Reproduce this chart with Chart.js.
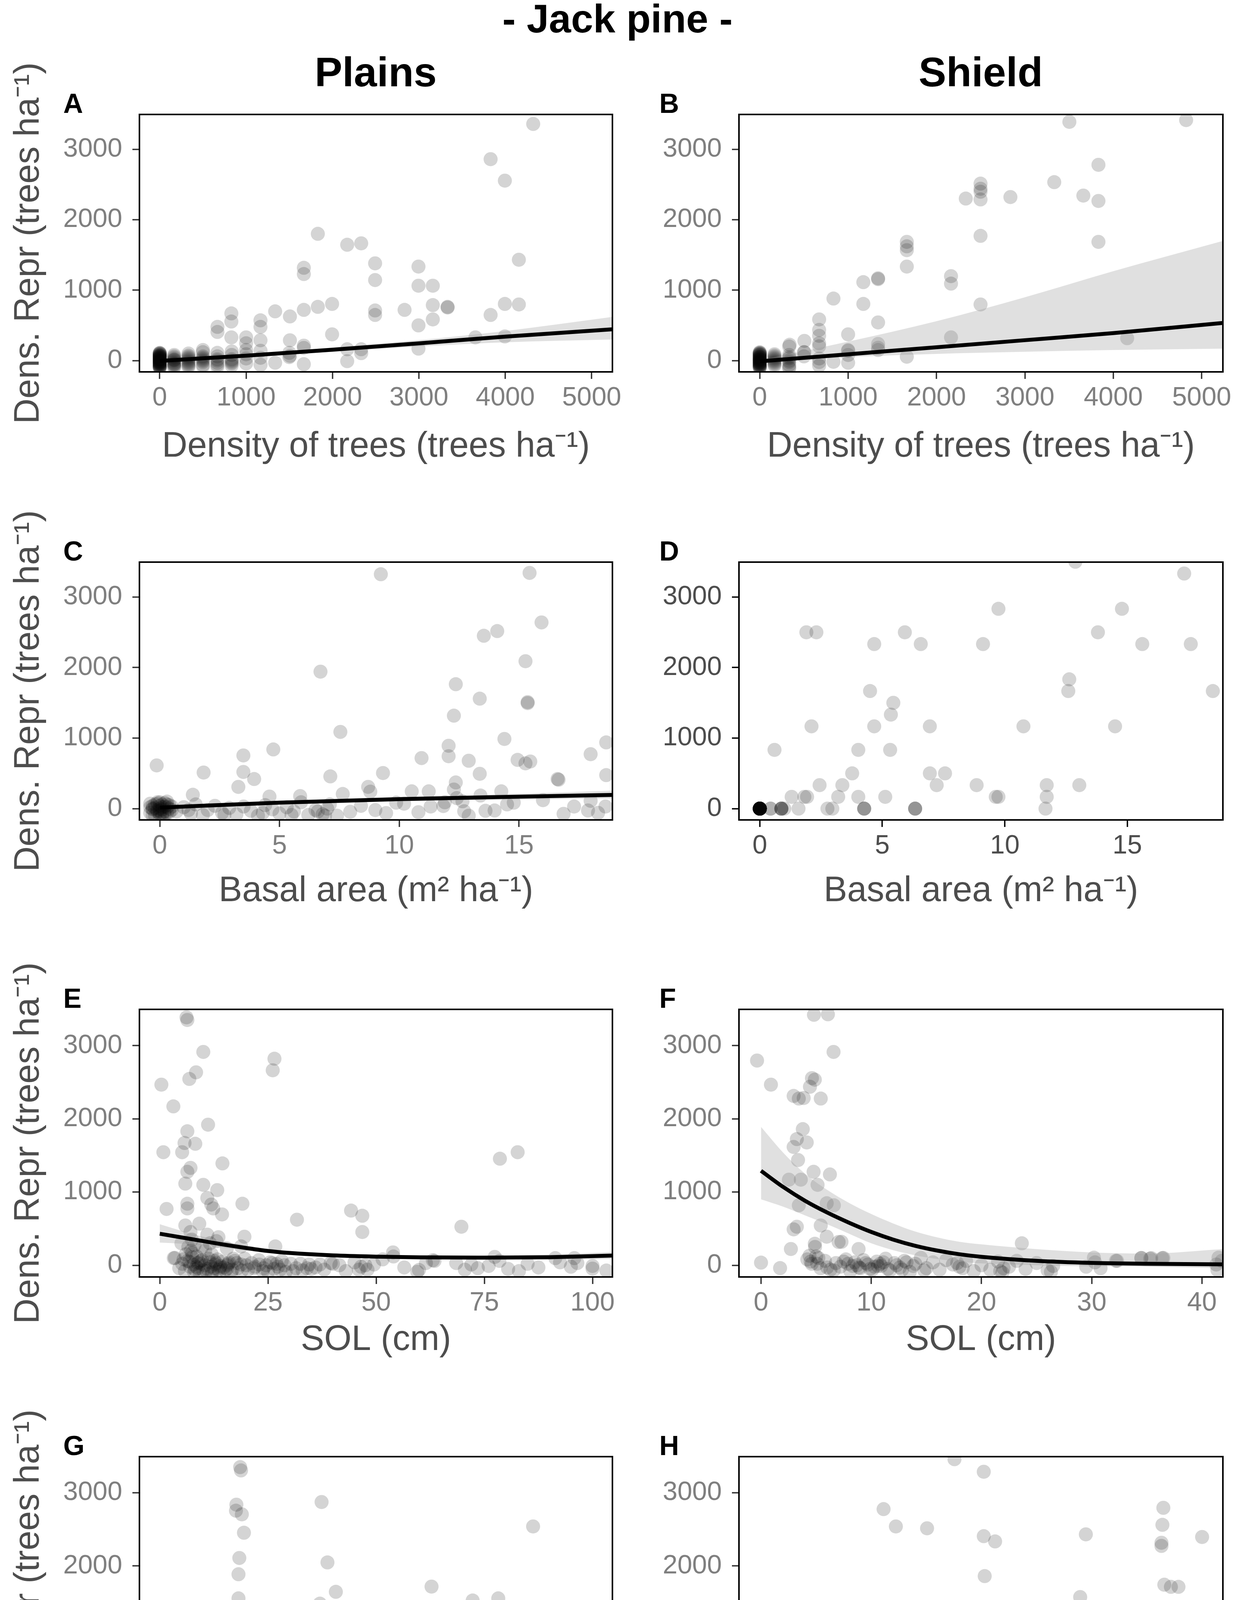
<!DOCTYPE html>
<html>
<head>
<meta charset="utf-8">
<script src="https://cdn.jsdelivr.net/npm/chart.js@4.4.0/dist/chart.umd.min.js"></script>
<style>
  html, body { margin: 0; padding: 0; background: #fff; }
  #page { position: relative; width: 3162px; height: 4634px; overflow: hidden; background: #fff;
          font-family: "Liberation Sans", Arial, sans-serif; }
  canvas { position: absolute; }
  .txt { position: absolute; font-weight: bold; color: #000; line-height: 1; white-space: nowrap; z-index: 5; }
</style>
</head>
<body>
<div id="page"></div>
<script>
// ---- data ----
const yTicks = [0, 1000, 2000, 3000];
const densTicks = [0, 1000, 2000, 3000, 4000, 5000];
const basalTicks = [0, 5, 10, 15];
const solPlainsTicks = [0, 25, 50, 75, 100];
const solShieldTicks = [0, 10, 20, 30, 40];
const dd5PlainsTicks = [75, 100, 125, 150];
const dd5ShieldTicks = [30, 40, 50, 60, 70];

// A - density, plains  [x, y]
const ptsA = [[4323,3360],[3830,2860],[3995,2555],[1830,1800],[2170,1645],[2332,1665],[1668,1318],[1668,1229],
  [2493,1381],[2493,1144],[2995,1335],[2995,1063],[3161,1063],[4157,1432],[1830,763],[1995,805],[1668,720],
  [1336,699],[1507,627],[2493,712],[2493,648],[2834,720],[3161,788],[3332,763],[3332,754],[3995,805],[4157,797],
  [3830,648],[2995,500],[3161,585],[1995,373],[3654,330],[3995,343],[829,670],[829,555],[668,479],[668,407],
  [1166,572],[1166,479],[1000,330],[829,330],[1166,288],[1507,288],[1668,212],[2170,161],[2332,161],[2995,170],
  [2170,-8],[2332,106],[1668,-51],[1336,-30],[1507,68],[1000,246],[1668,180],[1000,150],
  [0,-90],[0,-70],[0,-50],[0,-30],[0,-10],[0,0],[0,10],[0,30],[0,50],[0,70],[0,90],[0,110],[0,-80],[0,40],[0,-20],[0,60],
  [0,-100],[0,-60],[0,-40],[0,-15],[0,5],[0,20],[0,45],[0,80],[0,100],[0,-5],[0,15],[0,-45],[0,65],[0,25],
  [0,-95],[0,-65],[0,-35],[0,-25],[0,35],[0,55],[0,75],[0,95],[0,105],[0,-85],
  [167,-80],[167,-40],[167,0],[167,40],[167,80],[167,-60],[167,20],[167,-90],[167,-20],[167,60],[167,-50],[167,10],
  [333,-90],[333,-50],[333,-10],[333,30],[333,70],[333,100],[333,-70],[333,10],[333,50],[333,-30],
  [500,-60],[500,-20],[500,20],[500,60],[500,120],[500,150],[500,-80],[500,0],[500,40],
  [667,-90],[667,-30],[667,20],[667,60],[667,110],[667,-60],[667,0],
  [833,-70],[833,-20],[833,20],[833,80],[833,130],[833,-40],[833,0],
  [1000,-40],[1000,30],[1000,90],[1167,-60],[1167,40],[1167,140],[1500,50],[1500,110]];
const fitAx = [0, 1000, 2000, 3000, 4000, 5240];
const fitAy = [-5, 70, 155, 245, 340, 445];
const fitAlo = [-20, 50, 125, 200, 260, 300];
const fitAhi = [10, 90, 185, 290, 420, 620];

// B - density, shield
const ptsB = [[3503,3390],[4824,3415],[3832,2780],[3332,2534],[2498,2513],[2498,2440],[2498,2398],[2498,2288],
  [2331,2301],[2836,2322],[3661,2343],[3832,2267],[2498,1771],[3832,1686],[1664,1686],[1664,1623],[1664,1568],
  [1664,1335],[1172,1114],[1339,1169],[1339,1157],[2164,1199],[2164,1093],[834,881],[1172,805],[2498,797],
  [1339,542],[672,585],[672,436],[672,352],[672,246],[672,203],[1000,373],[2164,330],[4157,318],[505,280],
  [338,225],[1339,237],[1339,182],[1000,140],[1664,55],[834,-17],[1000,-30],[672,-72],[505,119],
  [0,-90],[0,-60],[0,-30],[0,0],[0,20],[0,40],[0,60],[0,80],[0,100],[0,120],[0,-70],[0,10],[0,-40],[0,50],
  [0,-100],[0,-80],[0,-50],[0,-20],[0,-10],[0,5],[0,30],[0,70],[0,90],[0,110],[0,-55],[0,15],[0,-25],[0,45],
  [0,-95],[0,-65],[0,-35],[0,25],[0,55],[0,85],[0,105],[0,-5],
  [167,-70],[167,-30],[167,10],[167,50],[167,90],[167,-50],[167,-10],[167,30],[167,70],
  [333,-110],[333,-60],[333,-20],[333,30],[333,80],[333,200],[333,-90],[333,0],[333,50],
  [500,60],[500,120],[672,-20],[672,30],[1000,80],[1000,150],[1339,150]];
const fitBx = [0, 1000, 2000, 3000, 4000, 5240];
const fitBy = [-10, 90, 190, 290, 390, 535];
const fitBlo = [-25, 50, 95, 125, 150, 170];
const fitBhi = [5, 270, 560, 900, 1270, 1700];

// C - basal area, plains
const ptsC = [[9.23,3323],[15.44,3342],[15.94,2640],[13.53,2451],[14.09,2517],[6.71,1942],[15.27,2090],[12.36,1764],
  [13.36,1559],[15.36,1496],[15.36,1510],[12.28,1318],[7.54,1088],[14.39,988],[12.06,891],[12.06,743],[4.74,839],
  [3.49,754],[10.93,717],[12.90,679],[14.94,691],[15.27,642],[15.47,668],[17.99,772],[18.64,939],[-0.13,613],
  [1.83,512],[3.49,520],[9.32,505],[3.94,420],[7.12,457],[13.36,494],[18.64,475],[16.61,420],[16.65,410],
  [3.28,308],[8.70,308],[12.36,371],[12.28,271],[1.38,197],[8.79,241],[10.52,245],[11.23,245],[14.26,245],
  [7.64,208],[5.86,178],[4.58,171],[13.39,186],[17.99,111],[14.78,85],[9.87,85],[12.64,104],[11.31,30],
  [11.84,37],[18.61,30],[17.88,-26],[16.86,-74],[13.98,-26],[12.71,-37],[9.45,-63],[7.95,-45],[6.99,0],
  [-0.4,-60],[-0.3,40],[-0.2,-100],[-0.1,90],[0,0],[0,-30],[0.1,60],[0.2,-80],[0.3,20],[0.4,-50],[-0.3,-10],
  [0.2,30],[0.1,-110],[-0.1,70],[0.3,100],[0.5,-20],[-0.2,10],[0.4,50],[0,-70],[-0.4,20],
  [-0.3,-90],[-0.1,-40],[0,40],[0.1,-10],[0.2,80],[-0.2,60],[0.3,-60],[0.4,0],[-0.4,70],[0.1,20],
  [0,-100],[-0.1,-20],[0.2,-40],[0.3,60],[0.5,30],[-0.3,0],[0,90],[0.1,-70],
  [0.7,-40],[1.0,20],[1.3,-70],[1.5,60],[1.8,-90],[2.0,-20],[2.3,40],[2.6,-60],[2.9,10],[3.2,-80],[3.5,30],
  [3.8,-30],[4.1,-100],[4.4,50],[4.7,-10],[5.0,-70],[5.3,20],[5.6,-40],[5.9,90],[6.2,-90],[6.5,-20],[6.8,-80],
  [7.1,60],[7.4,-100],[8.4,40],[9.0,-20],[10.2,70],[10.8,-50],[11.9,90],[12.4,150],[12.9,-100],[13.6,-30],
  [14.5,60],[16.0,120],[17.3,30],[18.3,-60],[1.2,-20],[2.7,-90],[4.3,-60],[6.6,-40],[6.9,-100],[5.5,-90]];
const fitCx = [0, 5, 10, 15, 18.9];
const fitCy = [15, 85, 135, 170, 195];
const fitClo = [-10, 60, 105, 130, 145];
const fitChi = [40, 110, 165, 210, 255];

// D - basal area, shield (no fit drawn)
const ptsD = [[12.88,3500],[17.32,3333],[9.74,2833],[14.78,2833],[1.90,2500],[2.31,2500],[5.92,2500],[13.80,2500],
  [4.67,2333],[6.57,2333],[9.11,2333],[15.61,2333],[17.59,2333],[12.63,1833],[12.59,1667],[18.49,1667],[4.50,1667],
  [5.45,1500],[5.35,1333],[2.11,1167],[4.67,1167],[6.94,1167],[10.76,1167],[14.50,1167],[0.60,833],[4.02,833],
  [5.32,833],[3.77,500],[6.94,500],[7.56,500],[2.44,333],[3.37,333],[7.22,333],[8.85,333],[11.71,333],[13.04,333],
  [1.30,167],[1.82,167],[1.93,167],[3.20,167],[4.02,167],[5.12,167],[9.63,167],[9.74,167],[11.71,167],
  [0,0],[0,0],[0,0],[0,0],[0,0],[0,0],[0,0],[0,0],[0,0],[0,0],[0,0],[0,0],[0,0],[0,0],[0,0],[0,0],[0,0],[0,0],
  [0,0],[0,0],[0,0],[0,0],[0,0],[0,0],[0,0],[0,0],[0,0],[0,0],[0,0],[0,0],[0,0],[0,0],
  [0.44,0],[0.44,0],[0.88,0],[0.88,0],[0.88,0],[0.88,0],[1.0,0],[1.58,0],[2.76,0],[2.96,0],
  [4.26,0],[4.26,0],[4.26,0],[6.34,0],[6.34,0],[6.34,0],[11.66,0]];

// E - SOL, plains
const ptsE = [[6.18,3386],[6.37,3350],[10.06,2914],[26.5,2821],[26.1,2663],[8.39,2635],[6.83,2545],[0.37,2467],
  [3.14,2170],[11.16,1920],[6.37,1830],[5.72,1670],[8.21,1659],[0.83,1544],[5.17,1544],[78.6,1455],[82.7,1544],
  [14.48,1391],[7.10,1330],[6.37,1276],[5.90,1115],[10.06,1098],[13.28,1026],[10.98,919],[19.10,840],[6.37,840],
  [6.37,776],[11.9,829],[1.57,769],[12.36,776],[14.39,694],[44.2,747],[46.8,676],[46.8,454],[31.7,622],[69.7,526],
  [5.90,543],[9.13,568],[7.10,454],[10.98,418],[19.56,390],[13.56,383],[13.1,329],[8.03,275],[26.7,257],[18.8,257],
  [3.23,97],[7.47,168],[53.9,175],[77.4,114],[95.8,97],[91.4,97],[63.1,68],[103.2,-72],[100,-46],[59.9,-64],
  [8.5,120],[9.5,60],[10.5,200],[12.0,150],[15.5,230],[17.0,90],
  [3.5,100],[4.5,-40],[5.2,20],[5.8,-80],[6.4,60],[7.0,-20],[7.5,110],[8.1,-60],[8.7,30],[9.2,-100],[9.8,70],
  [10.4,0],[11.0,-50],[11.6,40],[12.2,-90],[12.8,10],[13.3,80],[13.9,-30],[14.5,50],[15.1,-70],[15.8,20],
  [16.5,-100],[17.3,60],[18.0,-40],[18.8,10],[19.6,90],[20.4,-60],[21.2,30],[22.0,-20],[22.9,70],[23.8,-80],
  [24.6,0],[25.5,40],[26.4,-50],[27.3,-20],[28.2,60],[29.1,-90],[30.3,20],[31.5,-40],[33.0,-70],[34.5,10],
  [36.0,-30],[38.0,-60],[39.5,30],[41.5,0],[43.0,-80],[45.0,40],[46.5,-20],[48.0,-60],[49.5,10],[51.5,80],
  [54.0,120],[56.5,-30],[59.5,-90],[61.5,30],[63.5,60],[68.5,30],[70.5,-60],[72.0,10],[73.5,-40],[76.0,-10],
  [78.5,60],[80.5,-50],[83.0,-80],[85.0,20],[87.5,-30],[92.5,40],[95.0,-20],[96.5,30],[100.0,-10],
  [8.4,-20],[9.0,40],[10.0,-70],[11.3,90],[12.5,-40],[13.0,30],[14.0,-10],[15.5,-50],[7.8,10],[6.8,50],
  [12.0,-100],[13.6,-60],[16.0,40],[20.0,0],[24.0,-40],[27.0,20],[35.0,-50],[40.0,20],[46.0,-60],[47.5,0],
  [5.5,80],[6.0,150],[7.2,200],[7.9,-90],[8.8,-40],[9.6,20],[10.8,-80],[11.8,-20],[12.6,60],[13.8,-90],
  [14.8,-30],[15.6,0],[16.8,-60],[17.8,30],[19.0,-70],[21.8,-40],[23.0,10],[25.0,-90],[26.0,30],[27.8,-60],
  [28.8,0],[30.8,-80],[32.5,20],[34.0,-40],[37.0,10],[5.0,300],[6.6,250],[7.4,350],[9.8,250],[11.6,300]];
const fitEx = [0, 5, 10, 15, 20, 25, 30, 40, 50, 60, 75, 90, 104.6];
const fitEy = [430, 380, 330, 280, 235, 195, 168, 135, 118, 108, 104, 110, 132];
const fitElo = [310, 295, 270, 235, 200, 165, 140, 110, 95, 85, 78, 75, 85];
const fitEhi = [560, 470, 390, 325, 270, 225, 195, 160, 140, 132, 130, 145, 180];

// F - SOL, shield
const ptsF = [[4.80,3421],[6.07,3428],[6.58,2914],[-0.36,2796],[0.90,2467],[4.62,2556],[4.88,2535],[4.44,2438],
  [2.96,2313],[3.43,2277],[3.87,2284],[5.42,2277],[3.79,1859],[3.25,1723],[4.15,1677],[2.96,1616],[3.36,1437],
  [4.77,1276],[6.25,1240],[2.53,1169],[3.61,1169],[5.13,1098],[5.96,847],[6.61,819],[3.43,819],[2.96,490],
  [3.25,526],[5.42,543],[5.96,390],[7.04,318],[4.88,293],[2.71,222],[8.85,222],[23.66,300],[0,36],[1.73,-39],
  [32.2,61],[34.5,97],[35.4,97],[36.4,97],[41.5,104],[30.2,104],[41.4,-64],[4.9,250],[7.3,320],
  [4.2,80],[4.6,20],[5.0,120],[5.4,-40],[5.8,60],[6.3,-60],[6.8,30],[7.2,-20],[7.7,80],[8.1,-80],[8.5,40],
  [8.9,-30],[9.3,70],[9.7,10],[10.1,-60],[10.5,50],[10.9,-10],[11.3,90],[11.7,-70],[12.1,30],[12.6,-30],
  [13.0,60],[13.5,-90],[14.0,20],[14.5,100],[15.0,-40],[15.6,40],[16.2,-60],[16.8,70],[17.4,10],[18.0,-20],
  [18.6,60],[19.3,-80],[20.0,0],[20.8,-60],[21.5,50],[21.9,-100],[22.5,-20],[23.2,60],[24.0,-50],[25.0,30],
  [26.0,-70],[26.5,-10],[29.5,-20],[30.3,40],[30.8,-40],[32.3,60],[34.5,100],[35.3,90],[36.5,100],[41.3,10],
  [41.8,60],[9.0,-40],[9.5,30],[10.3,-20],[10.8,20],[11.5,-50],[12.3,0],[13.2,40],[8.3,-10],[7.5,50],
  [6.0,-30],[5.2,100],[4.4,130],[8.7,0],[9.9,-50],[10.6,-10],[11.1,40],[12.8,-60],[13.8,-10],[7.9,20],
  [6.6,-70],[14.8,-70],[17.8,30],[18.3,-40],[21.7,-80],[22.0,-40],[26.3,-90],[4.5,50],[5.1,20]];
const fitFx = [0, 2, 4, 6, 8, 10, 12, 14, 16, 18, 20, 25, 30, 35, 41.9];
const fitFy = [1290, 1070, 880, 720, 580, 455, 350, 265, 200, 150, 115, 60, 32, 20, 12];
const fitFlo = [900, 800, 680, 560, 430, 300, 205, 135, 85, 50, 25, 0, -15, -20, -40];
const fitFhi = [1890, 1540, 1250, 1030, 850, 700, 570, 460, 380, 320, 285, 220, 175, 160, 220];

// G - spring DD5, plains
const ptsG = [[74.1,3352],[74.3,3306],[73.2,2838],[73.1,2756],[74.5,2706],[75.0,2454],[93.5,2874],[143.9,2540],
  [73.9,2109],[94.9,2048],[73.7,1886],[96.9,1646],[119.7,1717],[73.7,1556],[135.6,1556],[129.5,1527],[93.1,1484],
  [78.1,1355],[72.2,1293],[74.1,1258],[130.0,1337],[74.5,1103],[142.0,1053],[87.4,959],[74.1,909],[92.8,837],
  [97.1,837],[126.6,826],[74.3,801],[91.4,755],[72.0,683],[118.9,729],[126.7,683],[88.6,593],[73.0,636],[74.5,575],
  [135.6,586],[144.9,611],[57.7,557],[73.2,528],[86.7,449],[117.5,503],[144.8,431],[73.7,395],[78.9,388],
  [87.2,323],[130.7,366],[57.7,298],[126.7,313],[117.5,287],[95.2,269],[90.9,234],[131.7,190],[57.4,205],
  [87.2,180],[158.2,-54],[140.5,-72],
  [56.5,-60],[57,-20],[57.3,20],[56.8,60],[57.5,100],[57.1,-90],[56.9,0],[57.6,-40],
  [56.7,-80],[57.2,-50],[57.4,-10],[56.9,40],[57.1,80],[57.0,-100],[57.3,-30],
  [69,-40],[69.5,20],[70,60],[69.3,-80],
  [72.5,-60],[73,0],[73.4,50],[73.8,-30],[74.2,90],[74.6,-90],[75,20],[73.6,130],[74.4,-10],[75.4,-50],[72.8,40],[74,-70],
  [73.2,-100],[73.7,-50],[74.1,10],[74.5,60],[74.0,-20],[73.5,100],[74.3,-80],[74.8,30],
  [79,20],[80.5,-60],[78.5,-30],[84,-20],[85,30],[87.5,-50],[88,20],[88.5,80],[87.8,-90],
  [92.5,10],[93,-60],[93.5,40],[94,-20],[94.5,80],[95,-80],[95.5,0],[96.5,50],[97.5,-40],[98,-90],[93.8,120],
  [93.2,-30],[93.9,-90],[94.3,20],[94.8,-50],[95.2,60],
  [104,-30],[105,40],[106,-70],[109,-90],[109.5,0],
  [113.5,-40],[114,30],[114.5,90],[115,-80],[115.5,10],[116,-30],[116.5,60],[117,-60],[117.5,0],[118,120],
  [118.5,-90],[119,40],[119.5,-20],[120,70],[120.5,-50],[121,10],[121.5,90],[122,-30],[114.8,160],[116.2,190],
  [114.2,-90],[115.2,50],[116.8,-90],[117.8,-30],[118.2,30],[118.8,-60],[119.3,0],[115.8,-50],
  [127,-50],[128,20],[129,-70],[130,60],[131,-20],[135.5,-30],[136,40],[136.5,-60],[141,-80],[145,30],[145.5,-50]];
const fitGx = [55.3, 105, 157.4];
const fitGy = [133, 107, 79];
const fitGlo = [75, 95, 45];
const fitGhi = [190, 120, 115];

// H - spring DD5, shield
const ptsH = [[47.2,3460],[50.3,3288],[39.7,2777],[41.0,2540],[44.3,2515],[50.3,2407],[51.5,2335],[61.1,2432],
  [69.3,2795],[69.2,2562],[69.1,2317],[69.1,2274],[73.4,2396],[50.4,1861],[60.5,1574],[69.4,1743],[70.1,1714],
  [70.9,1714],[46.5,1268],[50.4,1132],[59.0,1114],[67.8,1175],[69.1,1150],[68.7,1132],[39.6,898],[40.8,844],
  [52.7,816],[42.4,503],[53.8,503],[50.2,395],[68.8,478],[66.4,305],[73.0,298],[46.5,269],[44.2,269],[38.6,251],
  [39.6,234],[40.4,277],[59.1,234],
  [27,-40],[27.3,20],[27.6,70],[27.9,-80],[28.2,0],[28.5,50],[28.8,-30],[29.1,90],[27.5,-10],[28,30],[28.4,-60],
  [28.7,110],[29,-20],[27.8,-100],[28.1,60],[28.3,-30],[28.6,-90],[27.7,10],[28.9,40],
  [39,-20],[39.5,40],[40,-70],[40.3,10],[40.7,80],[39.8,-40],[40.2,150],[40.5,-90],[39.3,210],[40.1,190],
  [39.9,-100],[40.0,0],[40.4,-50],
  [42.5,-40],[43,20],[43.5,-80],[44,50],[44.3,-20],[45.5,10],[46.5,-60],[47,40],
  [49,-70],[49.5,-20],[50,-90],[50.5,20],[51,-60],[51.5,-100],[52.5,-80],[53,-30],[54,20],
  [56.5,-50],[57,30],[57.5,-90],[58,60],[58.5,-20],[59,100],[59.3,-60],[58.8,20],[57.8,-10],[61,-80],[61.5,40],
  [57.2,-70],[58.9,-90],[59.1,-20],
  [66.5,-60],[67,60],[68,-20],[69,-80],[69.3,40],[69.6,100],[70,-40],[70.4,20],[69.8,-100],[70.8,60],
  [69.5,-10],[70.2,-70],[69.1,10],
  [72.5,-30],[73,40],[73.2,-80],[72.8,100],[73.4,0],[73.1,-60],[72.9,20]];
const fitHx = [27, 35, 45, 55, 60, 65, 73.1];
const fitHy = [25, 40, 75, 100, 98, 85, 55];
const fitHlo = [-35, -25, -15, -5, -10, -25, -50];
const fitHhi = [85, 110, 200, 285, 285, 240, 165];

// ---- layout ----
const FONT = "Liberation Sans";
Chart.defaults.font.family = FONT;
const page = document.getElementById("page");
const rows = [[293, 952], [1439, 2099], [2584, 3269], [3729, 4413]];  // chart area top/bottom
const xTitlePad = [14, 23, 44, 47];
const yMin = -160, yMax = 3495;

const frame = {
  id: "frame",
  afterDatasetsDraw(chart) {
    const a = chart.chartArea, ctx = chart.ctx;
    ctx.save();
    ctx.strokeStyle = "#000";
    ctx.lineWidth = 4;
    ctx.strokeRect(a.left, a.top, a.right - a.left, a.bottom - a.top);
    ctx.restore();
  }
};

function xy(xs, ys) {
  return xs.map((x, i) => ({ x: x, y: ys[i] }));
}

function addText(text, left, top, size, center) {
  let d = document.createElement("div");
  d.className = "txt";
  d.textContent = text;
  d.style.fontSize = size + "px";
  d.style.top = top + "px";
  if (center) {
    d.style.left = (left - 800) + "px";
    d.style.width = "1600px";
    d.style.textAlign = "center";
  } else {
    d.style.left = left + "px";
  }
  page.appendChild(d);
}

function panel(o) {
  let c = document.createElement("canvas");
  let left = o.col === 0 ? 0 : 1600;
  let w = o.col === 0 ? 1600 : 1562;
  let yW = o.col === 0 ? 357 : 292;
  let padR = o.col === 0 ? 32 : 31;
  let r = rows[o.row];
  let h = 180 + (r[1] - r[0]) + 260 + 10;
  c.width = w;
  c.height = h;
  c.style.left = left + "px";
  c.style.top = (r[0] - 180) + "px";
  c.style.width = w + "px";
  c.style.height = h + "px";
  page.appendChild(c);

  let tickCol = o.dark ? "#000" : "#333";
  let labCol = o.dark ? "#4d4d4d" : "#7f7f7f";

  let datasets = [];
  if (o.fx) {
    datasets.push({ type: "line", data: xy(o.fx, o.fy), borderColor: "#000", borderWidth: 10,
      pointRadius: 0, cubicInterpolationMode: "monotone", order: 0 });
    datasets.push({ type: "line", data: xy(o.fx, o.lo), borderColor: "rgba(0,0,0,0)",
      pointRadius: 0, cubicInterpolationMode: "monotone", order: 1 });
    datasets.push({ type: "line", data: xy(o.fx, o.hi), borderColor: "rgba(0,0,0,0)",
      pointRadius: 0, cubicInterpolationMode: "monotone", fill: "-1",
      backgroundColor: "rgba(153,153,153,0.3)", order: 1 });
  }
  datasets.push({ type: "scatter", data: o.pts.map(p => ({ x: p[0], y: p[1] })), pointRadius: 18,
    backgroundColor: "rgba(0,0,0,0.17)", borderWidth: 0, order: 2 });

  new Chart(c.getContext("2d"), {
    type: "scatter",
    data: { datasets: datasets },
    options: {
      responsive: false,
      animation: false,
      events: [],
      layout: { padding: { left: 0, right: padR, top: 180, bottom: 10 } },
      plugins: { legend: { display: false }, title: { display: false }, tooltip: { enabled: false } },
      scales: {
        x: {
          type: "linear", min: o.xMin, max: o.xMax,
          afterBuildTicks: s => { s.ticks = o.xt.map(v => ({ value: v })); },
          afterFit: s => { s.height = 260; s.paddingLeft = 0; s.paddingRight = 0; },
          grid: { drawOnChartArea: false, tickLength: 18, tickWidth: 3.5, tickColor: tickCol, color: tickCol },
          border: { display: false },
          ticks: { color: labCol, font: { size: 68 }, padding: 8, maxRotation: 0, autoSkip: false,
                   callback: v => String(v) },
          title: { display: true, text: o.xTitle, color: "#4d4d4d", font: { size: 90 },
                   padding: { top: 0, bottom: xTitlePad[o.row] } }
        },
        y: {
          type: "linear", min: yMin, max: yMax,
          afterBuildTicks: s => { s.ticks = yTicks.map(v => ({ value: v })); },
          afterFit: s => { s.width = yW; s.paddingTop = 0; s.paddingBottom = 0; },
          grid: { drawOnChartArea: false, tickLength: 18, tickWidth: 3.5, tickColor: tickCol, color: tickCol },
          border: { display: false },
          ticks: { color: labCol, font: { size: 68 }, padding: 26, callback: v => String(v) },
          title: { display: o.col === 0, text: "Dens. Repr (trees ha\u207B\u00B9)", color: "#4d4d4d",
                   font: { size: 90 }, padding: { top: 20, bottom: 0 } }
        }
      }
    },
    plugins: [frame]
  });

  addText(o.letter, o.col === 0 ? 162 : 1688, r[0] - 63, 70, false);
}

const densTitle = "Density of trees (trees ha\u207B\u00B9)";
const basalTitle = "Basal area (m\u00B2 ha\u207B\u00B9)";

panel({ letter: "A", row: 0, col: 0, pts: ptsA, fx: fitAx, fy: fitAy, lo: fitAlo, hi: fitAhi,
        xMin: -235, xMax: 5240, xt: densTicks, xTitle: densTitle });
panel({ letter: "B", row: 0, col: 1, pts: ptsB, fx: fitBx, fy: fitBy, lo: fitBlo, hi: fitBhi,
        xMin: -235, xMax: 5240, xt: densTicks, xTitle: densTitle });
panel({ letter: "C", row: 1, col: 0, pts: ptsC, fx: fitCx, fy: fitCy, lo: fitClo, hi: fitChi,
        xMin: -0.85, xMax: 18.9, xt: basalTicks, xTitle: basalTitle });
panel({ letter: "D", row: 1, col: 1, pts: ptsD, dark: true,
        xMin: -0.85, xMax: 18.9, xt: basalTicks, xTitle: basalTitle });
panel({ letter: "E", row: 2, col: 0, pts: ptsE, fx: fitEx, fy: fitEy, lo: fitElo, hi: fitEhi,
        xMin: -4.7, xMax: 104.6, xt: solPlainsTicks, xTitle: "SOL (cm)" });
panel({ letter: "F", row: 2, col: 1, pts: ptsF, fx: fitFx, fy: fitFy, lo: fitFlo, hi: fitFhi,
        xMin: -2.0, xMax: 41.9, xt: solShieldTicks, xTitle: "SOL (cm)" });
panel({ letter: "G", row: 3, col: 0, pts: ptsG, fx: fitGx, fy: fitGy, lo: fitGlo, hi: fitGhi,
        xMin: 50.1, xMax: 162.8, xt: dd5PlainsTicks, xTitle: "Spring DD5" });
panel({ letter: "H", row: 3, col: 1, pts: ptsH, fx: fitHx, fy: fitHy, lo: fitHlo, hi: fitHhi,
        xMin: 24.4, xMax: 75.6, xt: dd5ShieldTicks, xTitle: "Spring DD5" });

addText("- Jack pine -", 1581, -3, 102, true);
addText("Plains", 962, 131, 106, true);
addText("Shield", 2511, 131, 106, true);
</script>
</body>
</html>
